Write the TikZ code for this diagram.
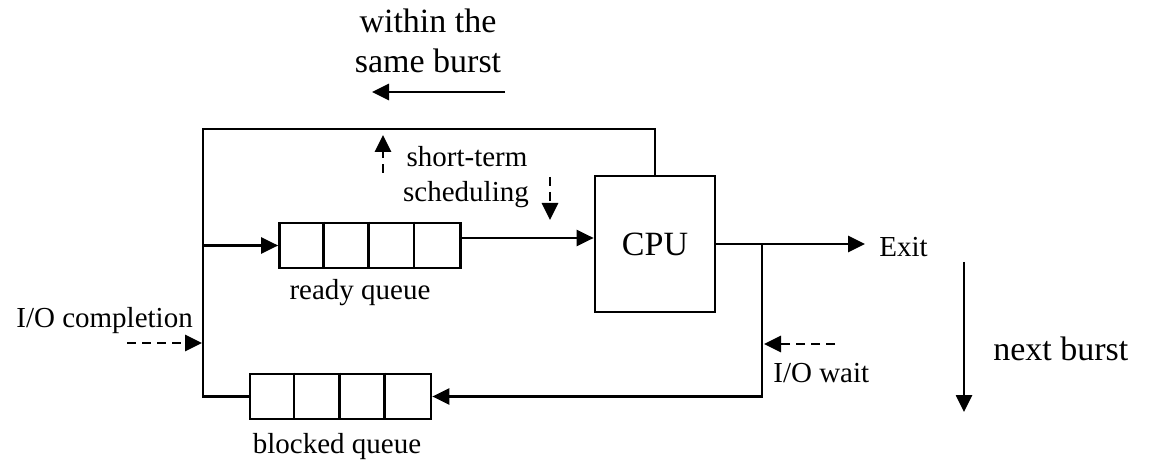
\documentclass[tikz,border=0pt]{standalone}
\usepackage{fontspec}
\setmainfont{Liberation Serif}
\usetikzlibrary{arrows.meta}
\begin{document}
\begin{tikzpicture}[x=1pt,y=-1pt,
  line width=2.7pt,
  tip/.style={-{Triangle[length=17pt,width=16pt]}},
  dashflow/.style={tip, dash pattern=on 9pt off 6pt},
  small/.style={font=\fontsize{29}{34}\selectfont, inner sep=0pt, anchor=base},
  big/.style={font=\fontsize{34}{40}\selectfont, inner sep=0pt, anchor=base},
  queue/.style={draw, rectangle, minimum width=181pt, minimum height=45pt, inner sep=0pt},
  cpubox/.style={draw, rectangle, minimum width=120pt, minimum height=136pt, inner sep=0pt,
                 font=\fontsize{34}{40}\selectfont}]
\useasboundingbox (0,0) rectangle (1149,462);

% queues and processor
\node[queue] (ready) at (370,245.5) {};
\foreach \i in {1,2,3}
  \draw ([xshift=\i*45.25pt]ready.north west) -- ([xshift=\i*45.25pt]ready.south west);
\node[queue] (blocked) at (340.5,396.5) {};
\foreach \i in {1,2,3}
  \draw ([xshift=\i*45.25pt]blocked.north west) -- ([xshift=\i*45.25pt]blocked.south west);
\node[cpubox] (cpu) at (655,244) {CPU};

% junction points
\coordinate (loopL) at (203,129);
\coordinate (jready) at (203,245.5);
\coordinate (jio) at (202,343);
\coordinate (br) at (762,244);
\coordinate (jwait) at (764,344);
\coordinate (exitpt) at (865,244);

% main flow
\draw (blocked.west) -| (loopL) -| (cpu.north);
\draw[tip] (jready) -- (ready.west);
\draw[tip] ([yshift=7.5pt]ready.east) -- ([yshift=6pt]cpu.west);
\draw[tip] (cpu.east) -- (exitpt);
\draw[tip] (br) |- (blocked.east);

% event arrows
\coordinate (iocStart) at (127,343);
\draw[dashflow] (iocStart) -- (jio);
\coordinate (iowStart) at (835,344);
\draw[dashflow] (iowStart) -- (jwait);
\coordinate (upA) at (383,173);
\coordinate (upB) at (383,135);
\draw[dashflow] (upA) -- (upB);
\coordinate (dnA) at (550,177);
\coordinate (dnB) at (550,220);
\draw[dashflow] (dnA) -- (dnB);

% burst direction arrows
\coordinate (samA) at (505,92);
\coordinate (samB) at (372,92);
\draw[tip] (samA) -- (samB);
\coordinate (nxtA) at (964,262);
\coordinate (nxtB) at (964,412);
\draw[tip] (nxtA) -- (nxtB);

% labels
\node[small, anchor=base west] (exit) at (878,257) {Exit};
\node[small] (st1) at (467,167) {short-term};
\node[small] (st2) at (466,202) {scheduling};
\node[small] (rql) at (360,300) {ready queue};
\node[small] (bql) at (337,453) {blocked queue};
\node[small, anchor=base west] (iocl) at (15,328) {I/O completion};
\node[small, anchor=base west] (iowl) at (772,383) {I/O wait};
\node[big] (sb1) at (428,33) {within the};
\node[big] (sb2) at (428,73) {same burst};
\node[big, anchor=base west] (nb) at (992,360) {next burst};
\end{tikzpicture}
\end{document}
